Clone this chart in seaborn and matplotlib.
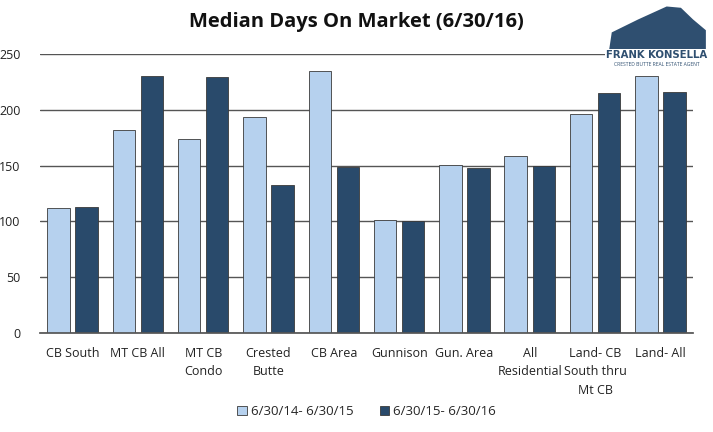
import matplotlib
matplotlib.use("Agg")
import matplotlib.pyplot as plt
import seaborn as sns
import pandas as pd
import numpy as np
from matplotlib.patches import Polygon

categories = ["CB South", "MT CB All", "MT CB\nCondo", "Crested\nButte", "CB Area",
              "Gunnison", "Gun. Area", "All\nResidential", "Land- CB\nSouth thru\nMt CB", "Land- All"]
series_names = ["6/30/14- 6/30/15", "6/30/15- 6/30/16"]
values_1415 = [112, 182, 174, 194, 235, 101, 151, 159, 196, 230]
values_1516 = [113, 230, 229, 133, 149, 100, 148, 150, 215, 216]
yticks = [0, 50, 100, 150, 200, 250]

df = pd.DataFrame({
    "cat": categories * 2,
    "series": [series_names[0]] * len(categories) + [series_names[1]] * len(categories),
    "value": values_1415 + values_1516,
})

sns.set_theme(style="white")
plt.rcParams['font.family'] = ['Open Sans', 'DejaVu Sans']

fig = plt.figure(figsize=(7.13, 4.32), dpi=100)
ax = fig.add_axes([0.056, 0.229, 0.916, 0.646])

palette = {series_names[0]: "#b6d1ee", series_names[1]: "#294a6b"}
sns.barplot(data=df, x="cat", y="value", hue="series", palette=palette, ax=ax,
            width=0.86, gap=0.2, edgecolor="#3a3a3a", linewidth=0.6, saturation=1)

ax.set_ylim(0, 250)
ax.set_yticks(yticks)
ax.yaxis.grid(True, color="#555555", linewidth=1.0)
ax.set_axisbelow(True)
for s in ["top", "right", "left"]:
    ax.spines[s].set_visible(False)
ax.spines["bottom"].set_color("#555555")
ax.set_xlim(-0.5, len(categories) - 0.5)
ax.set_xlabel("")
ax.set_ylabel("")
ax.tick_params(axis="y", labelsize=9, length=0, pad=14, colors="#222222")
ax.tick_params(axis="x", labelsize=9, length=0, pad=10, colors="#222222")
ax.set_xticks(range(len(categories)))
ax.set_xticklabels(categories, va="top", linespacing=1.55)
ax.set_xticks(np.arange(-0.5, len(categories), 1.0), minor=True)
ax.tick_params(axis="x", which="minor", length=5, color="#555555", direction="out")

leg = ax.legend(loc="upper center", bbox_to_anchor=(0.5, -0.215), ncol=2, frameon=False,
                fontsize=9.5, handlelength=0.7, handleheight=0.7, columnspacing=2.0,
                handletextpad=0.3)

fig.text(0.5, 0.95, "Median Days On Market (6/30/16)", ha="center", va="center",
         fontsize=14.5, fontweight="bold", color="#111111")

# simple logo rendition
logo = Polygon([[0.853, 0.87], [0.858, 0.925], [0.895, 0.955], [0.935, 0.985],
                [0.955, 0.982], [0.972, 0.955], [0.99, 0.93], [0.99, 0.87]],
               closed=True, transform=fig.transFigure, facecolor="#2f4f70", edgecolor="none")
fig.patches.append(logo)
fig.text(0.921, 0.873, "FRANK KONSELLA", ha="center", va="center", fontsize=7.3,
         fontweight="bold", color="#2f4f70", family=["DejaVu Sans Condensed", "DejaVu Sans"],
         bbox=dict(facecolor="white", edgecolor="none", pad=0.8))
fig.text(0.921, 0.85, "CRESTED BUTTE REAL ESTATE AGENT", ha="center", va="center",
         fontsize=3.6, color="#2f4f70",
         bbox=dict(facecolor="white", edgecolor="none", pad=0.5))

fig.savefig("out.png", dpi=100, facecolor="white")
